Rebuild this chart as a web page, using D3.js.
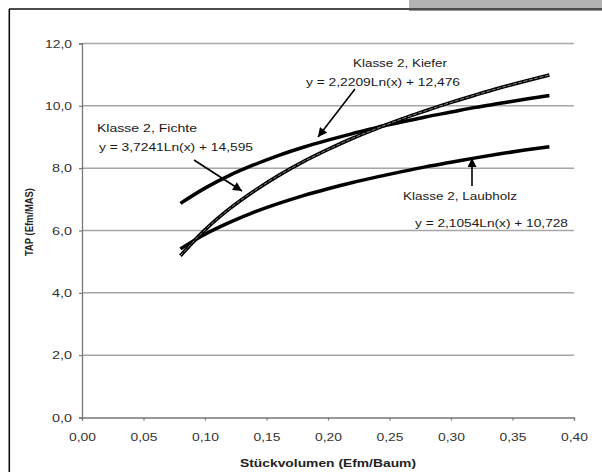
<!DOCTYPE html>
<html><head><meta charset="utf-8">
<script src="https://cdn.jsdelivr.net/npm/d3@7"></script>
<style>
html,body{margin:0;padding:0;background:#fff;}
svg{display:block;font-family:"Liberation Sans",Arial,sans-serif;}
</style></head>
<body>
<svg id="c" width="602" height="472"></svg>
<script>
// Data
const xValues = [0.08,0.10,0.12,0.14,0.16,0.18,0.20,0.22,0.24,0.26,0.28,0.30,0.32,0.34,0.36,0.38];
const kiefer  = [6.87,7.36,7.77,8.11,8.41,8.67,8.90,9.11,9.31,9.48,9.65,9.80,9.95,10.08,10.21,10.33];
const fichte  = [5.19,6.02,6.70,7.27,7.77,8.21,8.60,8.96,9.28,9.58,9.85,10.11,10.35,10.58,10.79,10.99];
const laubholz= [5.41,5.88,6.26,6.59,6.87,7.12,7.34,7.54,7.72,7.89,8.05,8.19,8.33,8.46,8.58,8.69];
const xTicks = [0,0.05,0.10,0.15,0.20,0.25,0.30,0.35,0.40];
const yTicks = [0,2,4,6,8,10,12];
const xTitle = "Stückvolumen (Efm/Baum)";
const yTitle = "TAP (Efm/MAS)";
const labels = [
  {name:"Klasse 2, Kiefer", eq:"y = 2,2209Ln(x) + 12,476"},
  {name:"Klasse 2, Fichte", eq:"y = 3,7241Ln(x) + 14,595"},
  {name:"Klasse 2, Laubholz", eq:"y = 2,1054Ln(x) + 10,728"}
];

const svg = d3.select("#c");
const x = d3.scaleLinear().domain([0,0.40]).range([82,574]);
const y = d3.scaleLinear().domain([0,12]).range([417.5,43.5]);
const fmtX = v => d3.format(".2f")(v).replace(".",",");
const fmtY = v => d3.format(".1f")(v).replace(".",",");

// frame
svg.append("rect").attr("x",409).attr("y",0).attr("width",193).attr("height",8).attr("fill","#b3b3b3");
svg.append("line").attr("x1",9).attr("x2",602).attr("y1",9).attr("y2",9).attr("stroke","#111").attr("stroke-width",1.6);
svg.append("line").attr("x1",409).attr("x2",602).attr("y1",10.5).attr("y2",10.5).attr("stroke","#999").attr("stroke-width",1);
svg.append("line").attr("x1",9.3).attr("x2",9.3).attr("y1",9).attr("y2",472).attr("stroke","#111").attr("stroke-width",1.6);

// grid
svg.append("g").selectAll("line").data(yTicks.filter(d=>d>0)).join("line")
  .attr("x1",x(0)).attr("x2",x(0.40)).attr("y1",d=>y(d)).attr("y2",d=>y(d))
  .attr("stroke","#a6a6a6").attr("stroke-width",1.5);

// axes
const gx = svg.append("g").attr("transform",`translate(0,${y(0)})`)
  .call(d3.axisBottom(x).tickValues(xTicks).tickFormat(fmtX).tickSize(3).tickPadding(13));
const gy = svg.append("g").attr("transform",`translate(${x(0)},0)`)
  .call(d3.axisLeft(y).tickValues(yTicks).tickFormat(fmtY).tickSize(3).tickPadding(7));
[gx,gy].forEach(g=>{
  g.select(".domain").attr("stroke","#777").attr("stroke-width",1.3);
  g.selectAll(".tick line").attr("stroke","#777").attr("stroke-width",1.2);
  g.selectAll(".tick text").attr("fill","#333").attr("font-size",11)
   .attr("font-family","'Liberation Sans',Arial,sans-serif")
   .attr("textLength",function(){ return this.textContent.length>=4 ? 27 : 20; })
   .attr("lengthAdjust","spacingAndGlyphs");
});

// titles
svg.append("text").attr("x",328).attr("y",467).attr("text-anchor","middle")
  .attr("font-size",10.5).attr("font-weight","bold").attr("fill","#222")
  .attr("textLength",176).attr("lengthAdjust","spacingAndGlyphs").text(xTitle);
svg.append("text").attr("transform","translate(33,222) rotate(-90)").attr("text-anchor","middle")
  .attr("font-size",10.5).attr("font-weight","bold").attr("fill","#222")
  .attr("textLength",68).attr("lengthAdjust","spacingAndGlyphs").text(yTitle);

// curves
const line = d3.line().x((d,i)=>x(xValues[i])).y(d=>y(d)).curve(d3.curveMonotoneX);
svg.append("path").attr("d",line(kiefer)).attr("fill","none").attr("stroke","#000").attr("stroke-width",3.5);
svg.append("path").attr("d",line(laubholz)).attr("fill","none").attr("stroke","#000").attr("stroke-width",3.5);
svg.append("path").attr("d",line(fichte)).attr("fill","none").attr("stroke","#000").attr("stroke-width",3.6);
svg.append("path").attr("d",line(fichte)).attr("fill","none").attr("stroke","#fff").attr("stroke-width",0.9).attr("stroke-dasharray","4,1.5").attr("opacity",0.6);

// annotations
svg.append("defs").append("marker").attr("id","ah").attr("viewBox","0 0 10 10")
  .attr("refX",10).attr("refY",5).attr("markerWidth",10).attr("markerHeight",9)
  .attr("markerUnits","userSpaceOnUse").attr("orient","auto")
  .append("path").attr("d","M0,0L10,5L0,10z").attr("fill","#000");
function arrow(x1,y1,x2,y2){
  svg.append("line").attr("x1",x1).attr("y1",y1).attr("x2",x2).attr("y2",y2)
    .attr("stroke","#000").attr("stroke-width",1.6).attr("marker-end","url(#ah)");
}
function txt(tx,ty,s,len){
  svg.append("text").attr("x",tx).attr("y",ty)
    .attr("font-size",11).attr("fill","#1a1a1a")
    .attr("textLength",len).attr("lengthAdjust","spacingAndGlyphs").text(s);
}
txt(353,67,labels[0].name,94);
txt(306,86,labels[0].eq,154);
arrow(355,89,318,137);
txt(97,132,labels[1].name,100);
txt(99,151,labels[1].eq,154);
arrow(194,160,242,191);
txt(403,200,labels[2].name,114);
txt(415,227,labels[2].eq,153);
arrow(472,186,472,158);
</script>
</body></html>
